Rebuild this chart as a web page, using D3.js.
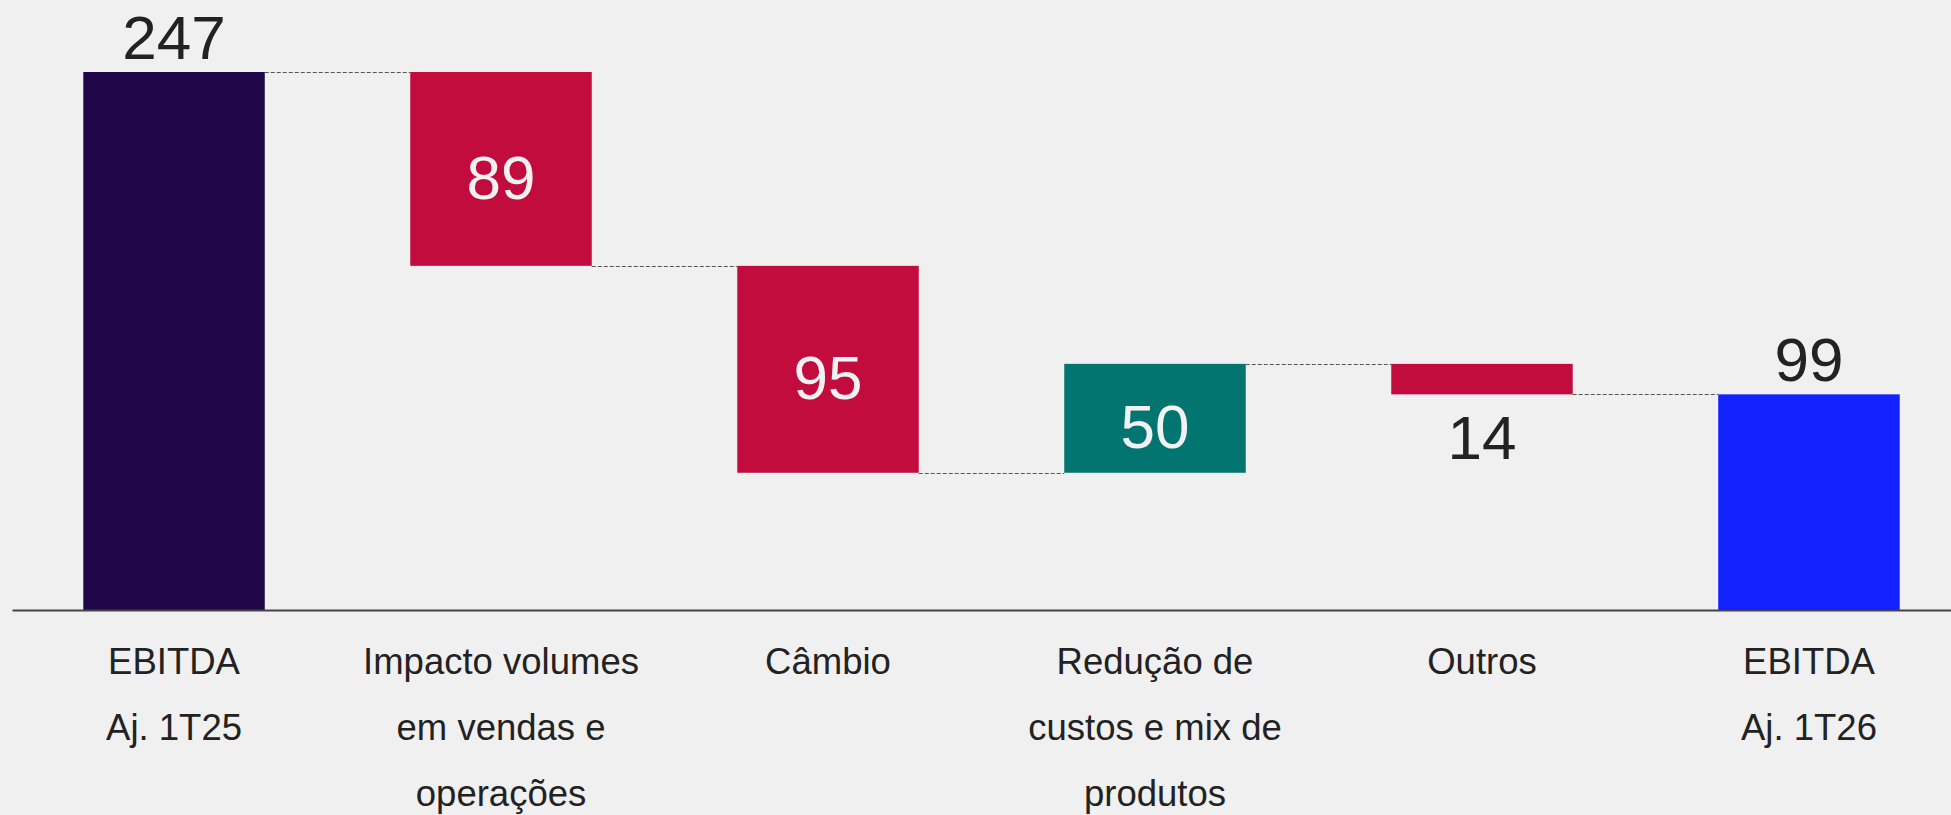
<!DOCTYPE html>
<meta charset="utf-8">
<style>
  body { margin: 0; background: #f0f0f0; }
  text { font-family: "Liberation Sans", Arial, sans-serif; }
</style>
<body>
<script src="https://d3js.org/d3.v7.min.js"></script>
<svg></svg>
<script>
    var width = 1951;
    var height = 815;

    // data
    var categories = ["EBITDA Aj. 1T25", "Impacto volumes em vendas e operações", "Câmbio",
                      "Redução de custos e mix de produtos", "Outros", "EBITDA Aj. 1T26"];
    var labelLines = [["EBITDA", "Aj. 1T25"], ["Impacto volumes", "em vendas e", "operações"], ["Câmbio"],
                      ["Redução de", "custos e mix de", "produtos"], ["Outros"], ["EBITDA", "Aj. 1T26"]];
    var values = [247, -89, -95, 50, -14, 99];
    var kinds = ["total", "delta", "delta", "delta", "delta", "total"];
    var colors = ["#1e0649", "#c20c3e", "#c20c3e", "#027570", "#c20c3e", "#1121ff"];

    // build start / end of each bar
    var running = 0;
    var bars = categories.map(function(c, i) {
        var start, end;
        if (kinds[i] == "total") { start = 0; end = values[i]; running = values[i]; }
        else { start = running; end = running + values[i]; running = end; }
        return {cat: c, lines: labelLines[i], value: values[i], kind: kinds[i], color: colors[i],
                lo: Math.min(start, end), hi: Math.max(start, end), end: end};
    });

    var svg = d3.select("svg")
        .attr("width", width)
        .attr("height", height)
        .style("background-color", "#f0f0f0");

    var x = d3.scaleBand()
        .domain(categories)
        .range([12, 1971])
        .paddingInner(0.445)
        .paddingOuter(0.218);

    var y = d3.scaleLinear()
        .domain([0, d3.max(bars, function(d) { return d.hi; })])
        .range([610, 72]);

    // dashed connectors between bars
    svg.selectAll(".link")
        .data(bars.slice(0, -1))
        .enter().append("line")
        .attr("x1", function(d) { return x(d.cat) + x.bandwidth(); })
        .attr("x2", function(d, i) { return x(categories[i + 1]); })
        .attr("y1", function(d) { return Math.round(y(d.end)) + 0.5; })
        .attr("y2", function(d) { return Math.round(y(d.end)) + 0.5; })
        .style("stroke", "#555")
        .style("stroke-width", 1)
        .style("stroke-dasharray", "4,2");

    svg.selectAll(".bar")
        .data(bars)
        .enter().append("rect")
        .attr("x", function(d) { return x(d.cat); })
        .attr("width", x.bandwidth())
        .attr("y", function(d) { return y(d.hi); })
        .attr("height", function(d) { return y(d.lo) - y(d.hi); })
        .style("fill", function(d) { return d.color; });

    // value labels: totals above, big deltas inside, small deltas below
    svg.selectAll(".val")
        .data(bars)
        .enter().append("text")
        .attr("x", function(d) { return x(d.cat) + x.bandwidth() / 2; })
        .attr("y", function(d) {
            var h = y(d.lo) - y(d.hi);
            if (d.kind == "total") return y(d.hi) - 13;
            if (h > 70) return (y(d.lo) + y(d.hi)) / 2 + 30;
            return y(d.lo) + 65;
        })
        .attr("text-anchor", "middle")
        .style("font-size", "62px")
        .style("fill", function(d) {
            var h = y(d.lo) - y(d.hi);
            return (d.kind == "delta" && h > 70) ? "#f2f2f2" : "#222";
        })
        .text(function(d) { return Math.abs(d.value); });

    // category axis
    var axis = svg.append("g")
        .attr("transform", "translate(0,610)")
        .call(d3.axisBottom(x).tickSize(0).tickSizeOuter(0));

    axis.select(".domain")
        .style("stroke", "#444")
        .style("stroke-width", 2);

    axis.selectAll(".tick text")
        .text(null)
        .attr("dy", null)
        .attr("y", 64)
        .style("font-family", "'Liberation Sans', Arial, sans-serif")
        .style("font-size", "36.5px")
        .style("fill", "#222")
        .each(function(c, i) {
            var t = d3.select(this);
            labelLines[i].forEach(function(line, j) {
                t.append("tspan")
                    .attr("x", 0)
                    .attr("y", 64 + j * 66)
                    .text(line);
            });
        });
</script>
